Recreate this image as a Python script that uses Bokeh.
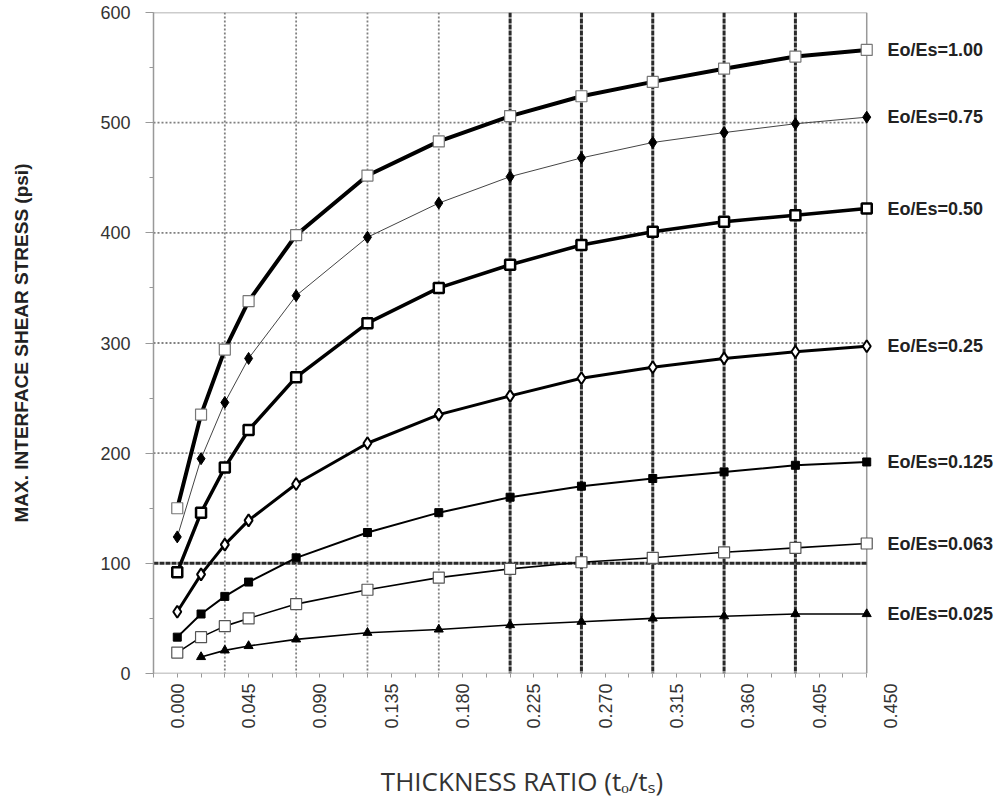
from math import pi
from bokeh.plotting import figure
from bokeh.models import (Span, FixedTicker, NumeralTickFormatter, Range1d,
                          LinearAxis)
from bokeh.embed import file_html
from bokeh.resources import INLINE

# ---------------- data ----------------
thickness = [0.000, 0.015, 0.030, 0.045, 0.075, 0.120, 0.165, 0.210, 0.255, 0.300, 0.345, 0.390, 0.435]
s_100 = [150, 235, 294, 338, 398, 452, 483, 506, 524, 537, 549, 560, 566]
s_075 = [124, 195, 246, 286, 343, 396, 427, 451, 468, 482, 491, 499, 505]
s_050 = [92, 146, 187, 221, 269, 318, 350, 371, 389, 401, 410, 416, 422]
s_025 = [56, 90, 117, 139, 172, 209, 235, 252, 268, 278, 286, 292, 297]
s_0125 = [33, 54, 70, 83, 105, 128, 146, 160, 170, 177, 183, 189, 192]
s_0063 = [19, 33, 43, 50, 63, 76, 87, 95, 101, 105, 110, 114, 118]
thickness_0025 = [0.015, 0.030, 0.045, 0.075, 0.120, 0.165, 0.210, 0.255, 0.300, 0.345, 0.390, 0.435]
s_0025 = [15, 21, 25, 31, 37, 40, 44, 47, 50, 52, 54, 54]

series_names = ["Eo/Es=1.00", "Eo/Es=0.75", "Eo/Es=0.50", "Eo/Es=0.25",
                "Eo/Es=0.125", "Eo/Es=0.063", "Eo/Es=0.025"]

x_tick_values = [0.000, 0.045, 0.090, 0.135, 0.180, 0.225, 0.270, 0.315, 0.360, 0.405, 0.450]
x_minor = [-0.015 + 0.015 * i for i in range(31)]
y_tick_values = [0, 100, 200, 300, 400, 500, 600]
y_minor = [50 * i for i in range(13)]

grid_x_light = [0.030, 0.075, 0.120, 0.165]
grid_x_dark = [0.210, 0.255, 0.300, 0.345, 0.390]
grid_y_light = [200, 300, 400, 500]
grid_y_dark = [100]
x_min, x_end = -0.015, 0.435
y_min, y_max = 0, 600

x_title = "THICKNESS RATIO (tₒ/tₛ)"
y_title = "MAX. INTERFACE SHEAR STRESS (psi)"

# ---------------- figure ----------------
p = figure(width=1000, height=801, output_backend="svg", toolbar_location=None,
           x_range=Range1d(-0.015, 0.450), y_range=Range1d(0, 600),
           min_border_left=153, min_border_right=110, min_border_top=12,
           min_border_bottom=128)
p.grid.visible = False
p.outline_line_color = None
p.background_fill_color = "white"
p.border_fill_color = "white"

# x axis (line drawn separately so it stops at the frame corner)
xa = p.xaxis[0]
xa.ticker = FixedTicker(ticks=x_tick_values, minor_ticks=x_minor)
xa.formatter = NumeralTickFormatter(format="0.000")
xa.major_label_orientation = pi / 2
xa.major_label_text_font = "Liberation Sans"
xa.major_label_text_font_size = "18px"
xa.major_label_text_color = "#333333"
xa.major_label_standoff = 4
xa.axis_line_color = None
xa.major_tick_line_color = None
xa.minor_tick_line_color = "#999999"
xa.minor_tick_in = 0
xa.minor_tick_out = 4
xa.axis_label = x_title
xa.axis_label_standoff = 31
xa.axis_label_text_font = "Open Sans"
xa.axis_label_text_font_size = "26px"
xa.axis_label_text_font_style = "normal"
xa.axis_label_text_color = "#333333"

ya = p.yaxis[0]
ya.ticker = FixedTicker(ticks=y_tick_values, minor_ticks=y_minor)
ya.major_label_text_font = "Liberation Sans"
ya.major_label_text_font_size = "18px"
ya.major_label_text_color = "#333333"
ya.major_label_standoff = 15
ya.axis_line_color = "#999999"
ya.axis_line_width = 1.5
ya.major_tick_line_color = "#999999"
ya.minor_tick_line_color = "#999999"
ya.major_tick_in = 0
ya.major_tick_out = 8
ya.minor_tick_in = 0
ya.minor_tick_out = 4
ya.axis_label = y_title
ya.axis_label_standoff = 65
ya.axis_label_text_font = "Liberation Sans"
ya.axis_label_text_font_size = "19px"
ya.axis_label_text_font_style = "bold"
ya.axis_label_text_color = "#222222"

# series labels as a right-hand axis
last_values = [s_100[-1], s_075[-1], s_050[-1], s_025[-1], s_0125[-1], s_0063[-1], s_0025[-1]]
ra = LinearAxis(ticker=FixedTicker(ticks=last_values, minor_ticks=[]),
                major_label_overrides={v: n for v, n in zip(last_values, series_names)})
ra.axis_line_color = None
ra.major_tick_line_color = None
ra.minor_tick_line_color = None
ra.major_label_standoff = -9
ra.major_label_text_font = "Liberation Sans"
ra.major_label_text_font_style = "bold"
ra.major_label_text_font_size = "18px"
ra.major_label_text_color = "#222222"
p.add_layout(ra, "right")

# frame lines and gridlines
p.segment(x0=[x_min, x_end, x_min], y0=[y_min, y_min, y_max],
          x1=[x_end, x_end, x_end], y1=[y_min, y_max, y_max],
          line_color="#999999", line_width=1.5, level="underlay")
for gx in grid_x_light:
    p.add_layout(Span(location=gx, dimension="height", line_color="#808080",
                      line_width=1.8, line_dash="2 2", level="underlay"))
for gx in grid_x_dark:
    p.add_layout(Span(location=gx, dimension="height", line_color="#2a2a2a",
                      line_width=3, line_dash="5 1", level="underlay"))
p.segment(x0=[x_min] * len(grid_y_light), y0=grid_y_light,
          x1=[x_end] * len(grid_y_light), y1=grid_y_light,
          line_color="#808080", line_width=1.8, line_dash="2 2", level="underlay")
p.segment(x0=[x_min] * len(grid_y_dark), y0=grid_y_dark,
          x1=[x_end] * len(grid_y_dark), y1=grid_y_dark,
          line_color="#2a2a2a", line_width=3, line_dash="5 1", level="underlay")

# series
p.line(thickness, s_0063, line_color="black", line_width=1.6)
p.scatter(thickness, s_0063, marker="square", size=11, fill_color="white",
          line_color="#555555", line_width=1.2)

p.line(thickness_0025, s_0025, line_color="black", line_width=1.6)
p.scatter(thickness_0025, s_0025, marker="triangle", size=9, fill_color="black",
          line_color="black")

p.line(thickness, s_0125, line_color="black", line_width=2)
p.scatter(thickness, s_0125, marker="square", size=8, fill_color="black",
          line_color="black")

p.line(thickness, s_025, line_color="black", line_width=3)
p.scatter(thickness, s_025, marker="diamond", size=12, fill_color="white",
          line_color="black", line_width=2)

p.line(thickness, s_050, line_color="black", line_width=3.5)
p.scatter(thickness, s_050, marker="square", size=10, fill_color="white",
          line_color="black", line_width=2.5)

p.line(thickness, s_075, line_color="#444444", line_width=1)
p.scatter(thickness, s_075, marker="diamond", size=12, fill_color="black",
          line_color="black")

p.line(thickness, s_100, line_color="black", line_width=4)
p.scatter(thickness, s_100, marker="square", size=11, fill_color="white",
          line_color="#777777", line_width=1.2)

open("out.html", "w").write(file_html(p, INLINE))
